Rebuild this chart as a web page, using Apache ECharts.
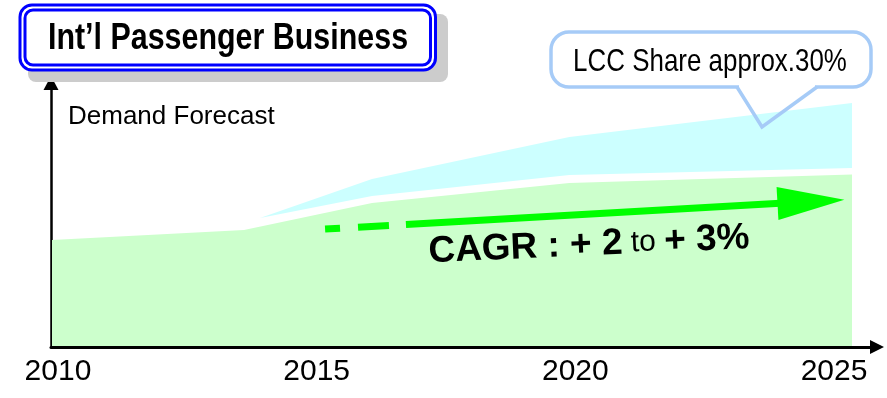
<!DOCTYPE html>
<html>
<head>
<meta charset="utf-8">
<script src="https://cdn.jsdelivr.net/npm/echarts@6/dist/echarts.min.js"></script>
<style>
  html, body { margin: 0; padding: 0; background: #ffffff; }
  #chart { width: 887px; height: 398px; }
</style>
</head>
<body>
<div id="chart"></div>
<script>
// International passenger demand forecast (index units)
const yearTicks = [2010, 2015, 2020, 2025];

// Full-service (non-LCC) demand
const baseYears  = [2010, 2013.6, 2016, 2019.7, 2025];
const baseDemand = [106, 116, 143, 163, 171.5];

// LCC band: lower and upper edges
const lccYears = [2013.9, 2016, 2019.7, 2025];
const lccLower = [128, 150, 171, 178];
const lccUpper = [128, 167, 209, 243];

// Growth trend arrow (start, end) in [year, index]
const trendStart = [2015.12, 117];
const trendEnd   = [2024.23, 144.4];

const FONT = "'Liberation Sans', Arial, sans-serif";

const basePoints = baseYears.map((y, i) => [y, baseDemand[i]]);
// value first so that the stack is applied to the demand dimension
const lccLowPoints = lccYears.map((y, i) => [lccLower[i], y]);
const lccBandPoints = lccYears.map((y, i) => [lccUpper[i] - lccLower[i], y]);

const chart = echarts.init(document.getElementById('chart'), null, { renderer: 'canvas' });

const BUBBLE = '#a6cbf7';

chart.setOption({
  animation: false,
  backgroundColor: '#ffffff',
  grid: [
    // plotting area for the demand areas
    { left: 52, right: 35, top: 75, bottom: 52 },
    // axis frame with arrows
    { left: 51, right: 10, top: 83, bottom: 51 }
  ],
  xAxis: [
    { gridIndex: 0, type: 'value', min: 2010, max: 2025, show: false },
    {
      gridIndex: 1, type: 'value', min: 2009.865, max: 2025.831,
      axisLine: {
        show: true, onZero: false,
        lineStyle: { color: '#000000', width: 3 },
        symbol: ['none', 'triangle'], symbolSize: [14, 14]
      },
      axisTick: { show: false },
      splitLine: { show: false },
      axisLabel: {
        customValues: yearTicks,
        formatter: v => String(v),
        color: '#000000',
        fontFamily: FONT,
        fontSize: 30,
        margin: 10
      }
    }
  ],
  yAxis: [
    { gridIndex: 0, type: 'value', min: 0, max: 271, show: false },
    {
      gridIndex: 1, type: 'value', min: 0, max: 1,
      axisLine: {
        show: true, onZero: false,
        lineStyle: { color: '#000000', width: 2.5 },
        symbol: ['none', 'triangle'], symbolSize: [15, 14]
      },
      axisTick: { show: false },
      axisLabel: { show: false },
      splitLine: { show: false }
    }
  ],
  series: [
    {
      name: 'Full-service demand',
      type: 'line',
      xAxisIndex: 0, yAxisIndex: 0,
      data: basePoints,
      showSymbol: false,
      silent: true,
      lineStyle: { width: 0 },
      areaStyle: { color: '#ccffcc', opacity: 1 },
      z: 2,
      markLine: {
        silent: true,
        symbol: ['none', 'triangle'],
        symbolSize: [33, 67],
        label: { show: false },
        emphasis: { disabled: true },
        lineStyle: {
          color: '#00ff00', width: 7, opacity: 1,
          type: [15, 18, 31, 17, 2000, 1], cap: 'butt'
        },
        data: [[{ coord: trendStart }, { coord: trendEnd }]],
        z: 5
      }
    },
    {
      name: 'LCC lower',
      type: 'line',
      xAxisIndex: 0, yAxisIndex: 0,
      stack: 'lcc',
      encode: { x: 1, y: 0 },
      data: lccLowPoints,
      showSymbol: false,
      silent: true,
      lineStyle: { width: 0, opacity: 0 },
      z: 2
    },
    {
      name: 'LCC',
      type: 'line',
      xAxisIndex: 0, yAxisIndex: 0,
      stack: 'lcc',
      encode: { x: 1, y: 0 },
      data: lccBandPoints,
      showSymbol: false,
      silent: true,
      lineStyle: { width: 0 },
      areaStyle: { color: '#ccffff', opacity: 1 },
      z: 2
    }
  ],
  graphic: [
    // title plate shadow
    {
      type: 'rect', silent: true, z: 10,
      shape: { x: 28, y: 14, width: 420, height: 68, r: 8 },
      style: { fill: '#cccccc' }
    },
    // title plate, outer border
    {
      type: 'rect', silent: true, z: 11,
      shape: { x: 20, y: 5, width: 415.5, height: 65, r: 12 },
      style: { fill: '#ffffff', stroke: '#0000ff', lineWidth: 3 }
    },
    // title plate, inner border
    {
      type: 'rect', silent: true, z: 12,
      shape: { x: 25, y: 10, width: 405.5, height: 55, r: 8 },
      style: { fill: '#ffffff', stroke: '#0000ff', lineWidth: 3 }
    },
    {
      type: 'text', silent: true, z: 13,
      x: 228, y: 39, scaleX: 0.845,
      style: {
        text: 'Int\u2019l Passenger Business',
        font: 'bold 36px ' + FONT,
        fill: '#000000',
        align: 'center', verticalAlign: 'middle',
        shadowColor: 'rgba(0,0,0,0.35)', shadowOffsetX: 2, shadowOffsetY: 2
      }
    },
    // y-axis caption
    {
      type: 'text', silent: true, z: 10,
      x: 68, y: 117,
      style: {
        text: 'Demand Forecast',
        font: '26px ' + FONT,
        fill: '#000000',
        align: 'left', verticalAlign: 'middle'
      }
    },
    // speech bubble body
    {
      type: 'rect', silent: true, z: 10,
      shape: { x: 551, y: 32, width: 320, height: 55, r: 18 },
      style: { fill: '#ffffff', stroke: BUBBLE, lineWidth: 3.5 }
    },
    // opening in the bubble edge where the pointer starts
    {
      type: 'line', silent: true, z: 11,
      shape: { x1: 739, y1: 87, x2: 815, y2: 87 },
      style: { stroke: '#ffffff', lineWidth: 5 }
    },
    // bubble pointer
    {
      type: 'polyline', silent: true, z: 11,
      shape: { points: [[737, 87], [762, 127], [817, 87]] },
      style: { fill: 'none', stroke: BUBBLE, lineWidth: 3.5, lineJoin: 'miter' }
    },
    {
      type: 'text', silent: true, z: 12,
      x: 710, y: 62, scaleX: 0.81,
      style: {
        text: 'LCC Share approx.30%',
        font: '32px ' + FONT,
        fill: '#000000',
        align: 'center', verticalAlign: 'middle'
      }
    },
    // growth annotation
    {
      type: 'text', silent: true, z: 10,
      x: 589, y: 245,
      rotation: 0.044,
      style: {
        text: '{b|CAGR : + 2}{n| to }{b|+ 3%}',
        align: 'center', verticalAlign: 'middle',
        rich: {
          b: { font: 'bold 37px ' + FONT, fill: '#000000' },
          n: { font: '30px ' + FONT, fill: '#000000' }
        }
      }
    }
  ]
});
</script>
</body>
</html>
